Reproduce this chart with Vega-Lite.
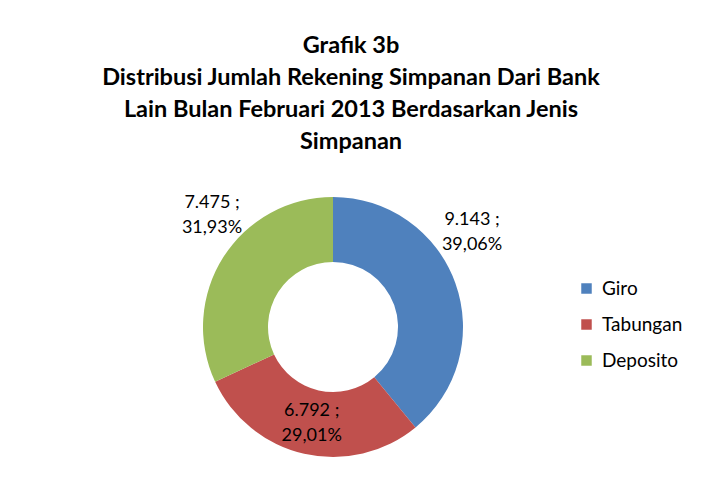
{
  "$schema": "https://vega.github.io/schema/vega-lite/v6.json",
  "autosize": {"type": "none"},
  "width": 466,
  "height": 314,
  "padding": {"left": 100, "top": 170, "right": 136, "bottom": 11},
  "background": "white",
  "title": {
    "text": ["Grafik 3b", "Distribusi Jumlah Rekening Simpanan Dari Bank", "Lain Bulan Februari 2013  Berdasarkan Jenis", "Simpanan"],
    "anchor": "middle",
    "dx": 18,
    "offset": 17,
    "font": "Lato",
    "fontSize": 23.5,
    "fontWeight": "bold",
    "lineHeight": 32,
    "color": "#000000"
  },
  "data": {
    "values": [
      {"jenis": "Giro", "jumlah": 9143, "urut": 1, "label": ["9.143 ;", "39,06%"]},
      {"jenis": "Tabungan", "jumlah": 6792, "urut": 2, "label": ["6.792 ;", "29,01%"]},
      {"jenis": "Deposito", "jumlah": 7475, "urut": 3, "label": ["7.475 ;", "31,93%"]}
    ]
  },
  "encoding": {
    "theta": {"field": "jumlah", "type": "quantitative", "stack": true},
    "order": {"field": "urut", "type": "quantitative", "sort": "ascending"}
  },
  "layer": [
    {
      "mark": {"type": "arc"},
      "encoding": {
        "radius": {"value": 130},
        "radius2": {"value": 65},
        "color": {
          "field": "jenis",
          "type": "nominal",
          "scale": {"domain": ["Giro", "Tabungan", "Deposito"], "range": ["#4F81BD", "#C0504D", "#9BBB59"]},
          "legend": {
            "title": null,
            "orient": "none",
            "legendX": 477,
            "legendY": 109,
            "symbolType": "square",
            "symbolSize": 110,
            "symbolStrokeWidth": 0,
            "labelFont": "Lato",
            "labelFontSize": 19,
            "labelColor": "#000000",
            "labelOffset": 6,
            "rowPadding": 16,
            "padding": 0
          }
        }
      }
    },
    {
      "mark": {"type": "text", "font": "Lato", "fontSize": 18, "lineHeight": 25, "align": "center", "baseline": "middle", "color": "#000000", "dx": -21, "dy": -50},
      "encoding": {
        "radius": {"value": 170},
        "text": {"condition": {"test": "datum.jenis === 'Giro'", "field": "label"}, "value": ""}
      }
    },
    {
      "mark": {"type": "text", "font": "Lato", "fontSize": 18, "lineHeight": 25, "align": "center", "baseline": "middle", "color": "#000000", "dy": -10},
      "encoding": {
        "radius": {"value": 96},
        "text": {"condition": {"test": "datum.jenis === 'Tabungan'", "field": "label"}, "value": ""}
      }
    },
    {
      "mark": {"type": "text", "font": "Lato", "fontSize": 18, "lineHeight": 25, "align": "center", "baseline": "middle", "color": "#000000", "dx": 19, "dy": -35},
      "encoding": {
        "radius": {"value": 166},
        "text": {"condition": {"test": "datum.jenis === 'Deposito'", "field": "label"}, "value": ""}
      }
    }
  ],
  "config": {"view": {"stroke": null}}
}
